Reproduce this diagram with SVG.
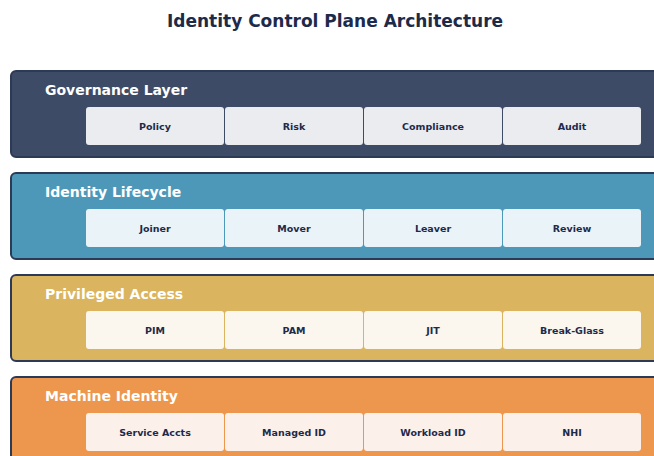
<svg xmlns="http://www.w3.org/2000/svg" width="654" height="456" viewBox="0 0 654 456">
<style>
.title{font-family:"DejaVu Sans",sans-serif;font-weight:bold;font-size:17px;fill:#1e2a4a}
.band{stroke:#2d3a55;stroke-width:2}
.lt{font-family:"DejaVu Sans",sans-serif;font-weight:bold;font-size:14px;fill:#ffffff}
.it{font-family:"DejaVu Sans",sans-serif;font-weight:bold;font-size:9.5px;fill:#1e2a4a;text-anchor:middle}
</style>
<rect width="654" height="456" fill="#ffffff"/>
<text class="title" x="335" y="27" text-anchor="middle">Identity Control Plane Architecture</text>
<g id="governance">
<rect class="band" x="11" y="71" width="660" height="86" rx="5" fill="#3d4b66"/>
<text class="lt" x="45" y="95">Governance Layer</text>
<g fill="#eaecf0"><rect x="86" y="107" width="138" height="38" rx="3"/><rect x="225" y="107" width="138" height="38" rx="3"/><rect x="364" y="107" width="138" height="38" rx="3"/><rect x="503" y="107" width="138" height="38" rx="3"/></g>
<text class="it" x="155" y="129.5">Policy</text><text class="it" x="294" y="129.5">Risk</text><text class="it" x="433" y="129.5">Compliance</text><text class="it" x="572" y="129.5">Audit</text>
</g>
<g id="lifecycle">
<rect class="band" x="11" y="173" width="660" height="86" rx="5" fill="#4d98b9"/>
<text class="lt" x="45" y="197">Identity Lifecycle</text>
<g fill="#eaf4f8"><rect x="86" y="209" width="138" height="38" rx="3"/><rect x="225" y="209" width="138" height="38" rx="3"/><rect x="364" y="209" width="138" height="38" rx="3"/><rect x="503" y="209" width="138" height="38" rx="3"/></g>
<text class="it" x="155" y="231.5">Joiner</text><text class="it" x="294" y="231.5">Mover</text><text class="it" x="433" y="231.5">Leaver</text><text class="it" x="572" y="231.5">Review</text>
</g>
<g id="privileged">
<rect class="band" x="11" y="275" width="660" height="86" rx="5" fill="#dab45e"/>
<text class="lt" x="45" y="299">Privileged Access</text>
<g fill="#fbf6ee"><rect x="86" y="311" width="138" height="38" rx="3"/><rect x="225" y="311" width="138" height="38" rx="3"/><rect x="364" y="311" width="138" height="38" rx="3"/><rect x="503" y="311" width="138" height="38" rx="3"/></g>
<text class="it" x="155" y="333.5">PIM</text><text class="it" x="294" y="333.5">PAM</text><text class="it" x="433" y="333.5">JIT</text><text class="it" x="572" y="333.5">Break-Glass</text>
</g>
<g id="machine">
<rect class="band" x="11" y="377" width="660" height="86" rx="5" fill="#ed964e"/>
<text class="lt" x="45" y="401">Machine Identity</text>
<g fill="#fcf1ea"><rect x="86" y="413" width="138" height="38" rx="3"/><rect x="225" y="413" width="138" height="38" rx="3"/><rect x="364" y="413" width="138" height="38" rx="3"/><rect x="503" y="413" width="138" height="38" rx="3"/></g>
<text class="it" x="155" y="435.5">Service Accts</text><text class="it" x="294" y="435.5">Managed ID</text><text class="it" x="433" y="435.5">Workload ID</text><text class="it" x="572" y="435.5">NHI</text>
</g>
<g id="connectors"/>
</svg>
